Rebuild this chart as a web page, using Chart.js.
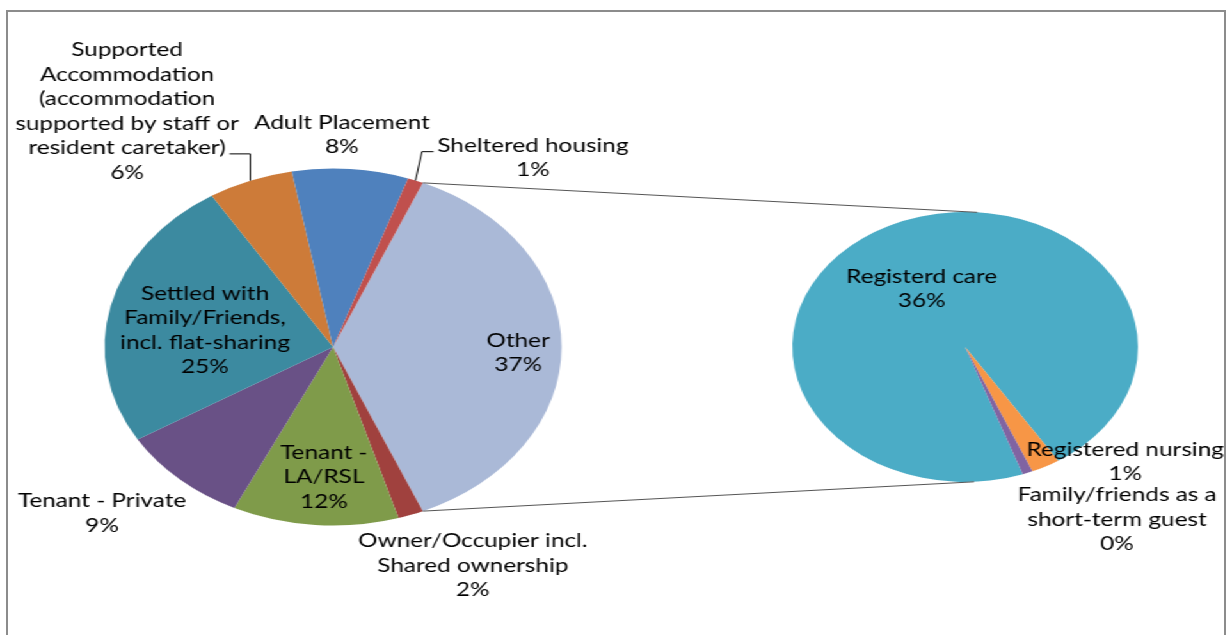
<!DOCTYPE html>
<html>
<head>
<meta charset="utf-8">
<script src="https://cdn.jsdelivr.net/npm/chart.js@4.4.1/dist/chart.umd.min.js"></script>
<style>
    html, body { margin: 0; padding: 0; background: #fff; overflow: hidden; }
    #frame { position: absolute; left: 6px; top: 10px; width: 1216px; height: 640px; border: 2px solid #8c8c8c; }
    /* the original picture is an excel chart stretched sideways, so draw narrow and stretch */
    #stage { position: absolute; left: 0; top: 0; width: 962px; height: 635px; transform: scaleX(1.28); transform-origin: 0 0; }
    #stage canvas { position: absolute; left: 0; top: 0; }
</style>
</head>
<body>
<div id="frame"></div>
<div id="stage">
    <canvas id="pieOther" width="962" height="635"></canvas>
    <canvas id="pieMain" width="962" height="635"></canvas>
</div>
<script>
// data (percent of all people)
const mainCategories = ['Owner/Occupier incl. Shared ownership', 'Tenant - LA/RSL', 'Tenant - Private',
    'Settled with Family/Friends, incl. flat-sharing',
    'Supported Accommodation (accommodation supported by staff or resident caretaker)',
    'Adult Placement', 'Sheltered housing'];
const mainValues = [1.8, 11.7, 9.2, 24.7, 6.0, 8.2, 1.1];

const otherCategories = ['Registerd care', 'Registered nursing', 'Family/friends as a short-term guest'];
const otherValues = [35.7, 1.0, 0.35];

const mainColors = ['#aab9d7', '#a0413e', '#7f9b4a', '#695186', '#3c8aa0', '#cd7b39', '#4f81bd', '#c0504d'];
const otherColors = ['#4bacc6', '#f79646', '#8064a2'];

// how the labels are broken into lines, like excel wrapped them
const mainLabelLines = [
    ['Other'],
    ['Owner/Occupier incl.', 'Shared ownership'],
    ['Tenant -', 'LA/RSL'],
    ['Tenant - Private'],
    ['Settled with', 'Family/Friends,', 'incl. flat-sharing'],
    ['Supported', 'Accommodation', '(accommodation', 'supported by staff or', 'resident caretaker)'],
    ['Adult Placement'],
    ['Sheltered housing'],
];
const otherLabelLines = [
    ['Registerd care'],
    ['Registered nursing'],
    ['Family/friends as a', 'short-term guest'],
];

// label placement: k = fraction of radius along mid angle, then nudge
const mainLabelPos = [
    { k: 0.81, dx: 0, dy: 6 },
    { k: 1, dx: 48.5, dy: 50.7 },
    { k: 0.73, dx: 3, dy: 0 },
    { k: 1, dx: -60.6, dy: 34.3 },
    { k: 0.57, dx: -1, dy: 7 },
    { k: 1, dx: -96.2, dy: -69.5, leader: { line: 4, side: 'right', knee: 'vertical' } },
    { k: 1, dx: -6.7, dy: -34 },
    { k: 1, dx: 91.7, dy: -22.6, leader: { line: 0, side: 'left' } },
];
const otherLabelPos = [
    { k: 0.5, dx: -4.3, dy: 2.6 },
    { k: 1, dx: 62.2, dy: -4.5 },
    { k: 1, dx: 69.9, dy: 46.6 },
];

const W = 962, H = 635;
const MAIN_PIE = { cx: 260.2, cy: 347, r: 178.5 };
const OTHER_PIE = { cx: 754, cy: 347, r: 135, rotation: 160.5 };
const FONT = '19px Lato';
const LINE_H = 24.5;

const otherTotal = otherValues.reduce((a, b) => a + b, 0);
const allMain = [otherTotal, ...mainValues];
const grandTotal = allMain.reduce((a, b) => a + b, 0);

function paddingFor(p) {
    return { left: p.cx - p.r, right: W - p.cx - p.r, top: p.cy - p.r, bottom: H - p.cy - p.r };
}

function pct(v) {
    return Math.round(v / grandTotal * 100) + '%';
}

function drawLabels(chart, values, lines, pos) {
    const ctx = chart.ctx;
    const meta = chart.getDatasetMeta(0);
    ctx.save();
    ctx.font = FONT;
    ctx.fillStyle = '#000';
    ctx.textAlign = 'center';
    ctx.textBaseline = 'middle';
    meta.data.forEach((arc, i) => {
        const p = arc.getProps(['x', 'y', 'startAngle', 'endAngle', 'outerRadius'], true);
        const mid = (p.startAngle + p.endAngle) / 2;
        const ox = p.x + Math.cos(mid) * p.outerRadius;
        const oy = p.y + Math.sin(mid) * p.outerRadius;
        const lx = p.x + Math.cos(mid) * p.outerRadius * pos[i].k + pos[i].dx;
        const ly = p.y + Math.sin(mid) * p.outerRadius * pos[i].k + pos[i].dy;
        const txt = [...lines[i], pct(values[i])];
        txt.forEach((t, j) => {
            ctx.fillText(t, lx, ly + (j - (txt.length - 1) / 2) * LINE_H);
        });
        const ld = pos[i].leader;
        if (ld) {
            const t = txt[ld.line];
            const w = ctx.measureText(t).width;
            const y = ly + (ld.line - (txt.length - 1) / 2) * LINE_H + 6;
            const x0 = ld.side === 'right' ? lx + w / 2 + 3 : lx - w / 2 - 3;
            let x1 = ld.side === 'right' ? x0 + 9 : x0 - 9;
            if (ld.knee === 'vertical') x1 = ox;
            ctx.strokeStyle = '#000';
            ctx.lineWidth = 1;
            ctx.beginPath();
            ctx.moveTo(x0, y);
            ctx.lineTo(x1, y);
            ctx.lineTo(ox, oy);
            ctx.stroke();
        }
    });
    ctx.restore();
}

const otherChart = new Chart(document.getElementById('pieOther'), {
    type: 'pie',
    data: {
        labels: otherCategories,
        datasets: [{
            data: otherValues,
            backgroundColor: otherColors,
            borderWidth: 0,
            hoverOffset: 0,
            offset: 0,
        }]
    },
    options: {
        responsive: false,
        animation: false,
        devicePixelRatio: 1,
        events: [],
        rotation: OTHER_PIE.rotation,
        radius: OTHER_PIE.r,
        layout: { padding: paddingFor(OTHER_PIE) },
        plugins: { legend: { display: false }, tooltip: { enabled: false } },
    },
    plugins: [{
        id: 'otherLabels',
        afterDatasetsDraw(chart) {
            drawLabels(chart, otherValues, otherLabelLines, otherLabelPos);
        }
    }]
});

const mainChart = new Chart(document.getElementById('pieMain'), {
    type: 'pie',
    data: {
        labels: ['Other', ...mainCategories],
        datasets: [{
            data: allMain,
            backgroundColor: mainColors,
            borderWidth: 0,
            hoverOffset: 0,
            offset: 0,
        }]
    },
    options: {
        responsive: false,
        animation: false,
        devicePixelRatio: 1,
        events: [],
        // put the middle of "Other" at 3 o'clock, facing the second pie
        rotation: 90 - otherTotal / grandTotal * 180,
        radius: MAIN_PIE.r,
        layout: { padding: paddingFor(MAIN_PIE) },
        plugins: { legend: { display: false }, tooltip: { enabled: false } },
    },
    plugins: [{
        id: 'mainLabels',
        afterDatasetsDraw(chart) {
            drawLabels(chart, allMain, mainLabelLines, mainLabelPos);

            // connector lines from the Other slice to the second pie
            const o = chart.getDatasetMeta(0).data[0].getProps(['x', 'y', 'startAngle', 'endAngle', 'outerRadius'], true);
            const s = otherChart.getDatasetMeta(0).data[0].getProps(['x', 'y', 'outerRadius'], true);
            const top2 = -Math.PI / 2 + 4 * Math.PI / 180;
            const bot2 = Math.PI / 2 - 3 * Math.PI / 180;
            const ctx = chart.ctx;
            ctx.save();
            ctx.strokeStyle = '#555';
            ctx.lineWidth = 1;
            ctx.beginPath();
            ctx.moveTo(o.x + Math.cos(o.startAngle) * o.outerRadius, o.y + Math.sin(o.startAngle) * o.outerRadius);
            ctx.lineTo(s.x + Math.cos(top2) * s.outerRadius, s.y + Math.sin(top2) * s.outerRadius);
            ctx.moveTo(o.x + Math.cos(o.endAngle) * o.outerRadius, o.y + Math.sin(o.endAngle) * o.outerRadius);
            ctx.lineTo(s.x + Math.cos(bot2) * s.outerRadius, s.y + Math.sin(bot2) * s.outerRadius);
            ctx.stroke();
            ctx.restore();
        }
    }]
});
</script>
</body>
</html>
